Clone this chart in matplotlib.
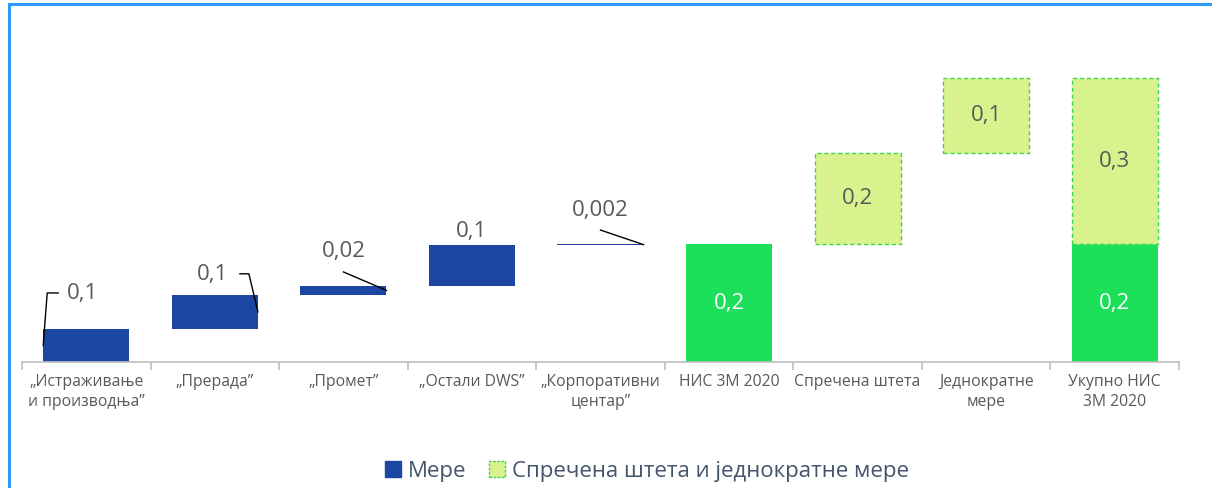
import numpy as np
import matplotlib
matplotlib.use("Agg")
import matplotlib.pyplot as plt
from matplotlib.patches import Patch
from matplotlib.lines import Line2D

plt.rcParams['font.family'] = ['Open Sans', 'DejaVu Sans']

# Data
categories = ["„Истраживање\nи производња”", "„Прерада”", "„Промет”", "„Остали DWS”",
              "„Корпоративни\nцентар”", "НИС 3М 2020", "Спречена штета",
              "Једнократне\nмере", "Укупно НИС\n3М 2020"]
measures = [0.056, 0.058, 0.015, 0.069, 0.002]
measure_labels = ["0,1", "0,1", "0,02", "0,1", "0,002"]
avoided = 0.154
one_off = 0.127
total_label = "0,2"
avoided_label = "0,2"
one_off_label = "0,1"
extra_total_label = "0,3"

blue = "#1B46A1"
green = "#1CE05A"
light = "#D8F28E"
edge = "#3AD64E"
grey_txt = "#595959"

W, H = 1212, 488
fig = plt.figure(figsize=(W / 100, H / 100), dpi=100)
ax_l, ax_r, ax_b, ax_t = 22, 1179, 362, 20
ax = fig.add_axes([ax_l / W, (H - ax_b) / H, (ax_r - ax_l) / W, (ax_b - ax_t) / H])
ymax = 0.58
ax.set_xlim(-0.5, 8.5)
ax.set_ylim(0, ymax)

# pixel -> data helpers
XP = 9 / (ax_r - ax_l)
YP = ymax / (ax_b - ax_t)
bw = 0.67

# waterfall of measures
bottoms = np.concatenate([[0], np.cumsum(measures)[:-1]])
x = np.arange(len(measures))
ax.bar(x, measures, bottom=bottoms, width=bw, color=blue)
total = sum(measures)

dash = dict(color=light, edgecolor=edge, linestyle=(0, (3, 2)), linewidth=1)
ax.bar(5, total, width=bw, color=green)
ax.bar(6, avoided, bottom=total, width=bw, **dash)
ax.bar(7, one_off, bottom=total + avoided, width=bw, **dash)
ax.bar(8, total, width=bw, color=green)
ax.bar(8, avoided + one_off, bottom=total, width=bw, **dash)

# labels of measures
fs = 16
lab_kw = dict(fontsize=fs, color=grey_txt, ha="center", va="center")
lw = 1.0
for i, (b, v, s) in enumerate(zip(bottoms, measures, measure_labels)):
    top = b + v
    mid = b + v / 2
    left, right = i - bw / 2, i + bw / 2
    if i == 0:
        ax.text(i - 4 * XP, top + 35 * YP, s, **lab_kw)
        ax.plot([left, left + 4 * XP, left + 15 * XP],
                [mid, top + 36 * YP, top + 36 * YP], color="black", lw=lw)
    elif i == 1:
        ax.text(i - 2 * XP, top + 20 * YP, s, **lab_kw)
        ax.plot([right - 18 * XP, right - 9 * XP, right],
                [top + 21 * YP, top + 21 * YP, mid], color="black", lw=lw)
    elif i == 3:
        ax.text(i, top + 14 * YP, s, **lab_kw)
    else:
        ax.text(i, top + 34 * YP, s, **lab_kw)
        ax.plot([i, right], [top + 14 * YP, mid], color="black", lw=lw)

ax.text(5, total / 2, total_label, fontsize=fs, color="white", ha="center", va="center")
ax.text(6, total + avoided / 2, avoided_label, **lab_kw)
ax.text(7, total + avoided + one_off / 2, one_off_label, **lab_kw)
ax.text(8, total / 2, total_label, fontsize=fs, color="white", ha="center", va="center")
ax.text(8, total + (avoided + one_off) / 2, extra_total_label, **lab_kw)

# axes styling
for s in ["top", "right", "left"]:
    ax.spines[s].set_visible(False)
ax.spines["bottom"].set_color("#BFBFBF")
ax.spines["bottom"].set_linewidth(1.2)
ax.set_yticks([])
ax.set_xticks(np.arange(len(categories)))
ax.set_xticklabels(categories, fontsize=11.3, color=grey_txt, linespacing=1.25)
ax.tick_params(axis="x", which="major", length=0, pad=9)
ax.set_xticks(np.arange(-0.5, len(categories)), minor=True)
ax.tick_params(axis="x", which="minor", length=6, color="#BFBFBF", width=1.2)

# legend
handles = [Patch(facecolor=blue, edgecolor=blue, label="Мере"),
           Patch(facecolor=light, edgecolor=edge, linestyle=(0, (2, 1)), linewidth=1,
                 label="Спречена штета и једнократне мере")]
leg = fig.legend(handles=handles, loc="center", bbox_to_anchor=(647 / W, (H - 471) / H),
                 ncol=2, frameon=False, fontsize=16, handlelength=0.72, handleheight=0.72,
                 handletextpad=0.3, columnspacing=1.0, borderpad=0)
for t in leg.get_texts():
    t.set_color("#44546A")

# blue frame of the screenshot
frame = "#2E9BFA"
fig.add_artist(Line2D([8.5 / W, 8.5 / W], [0, 1 - 4 / H], color=frame, lw=2.2,
                      transform=fig.transFigure))
fig.add_artist(Line2D([8.5 / W, 1], [1 - 4 / H, 1 - 4 / H], color=frame, lw=2.2,
                      transform=fig.transFigure))

fig.savefig("out.png", dpi=100)
